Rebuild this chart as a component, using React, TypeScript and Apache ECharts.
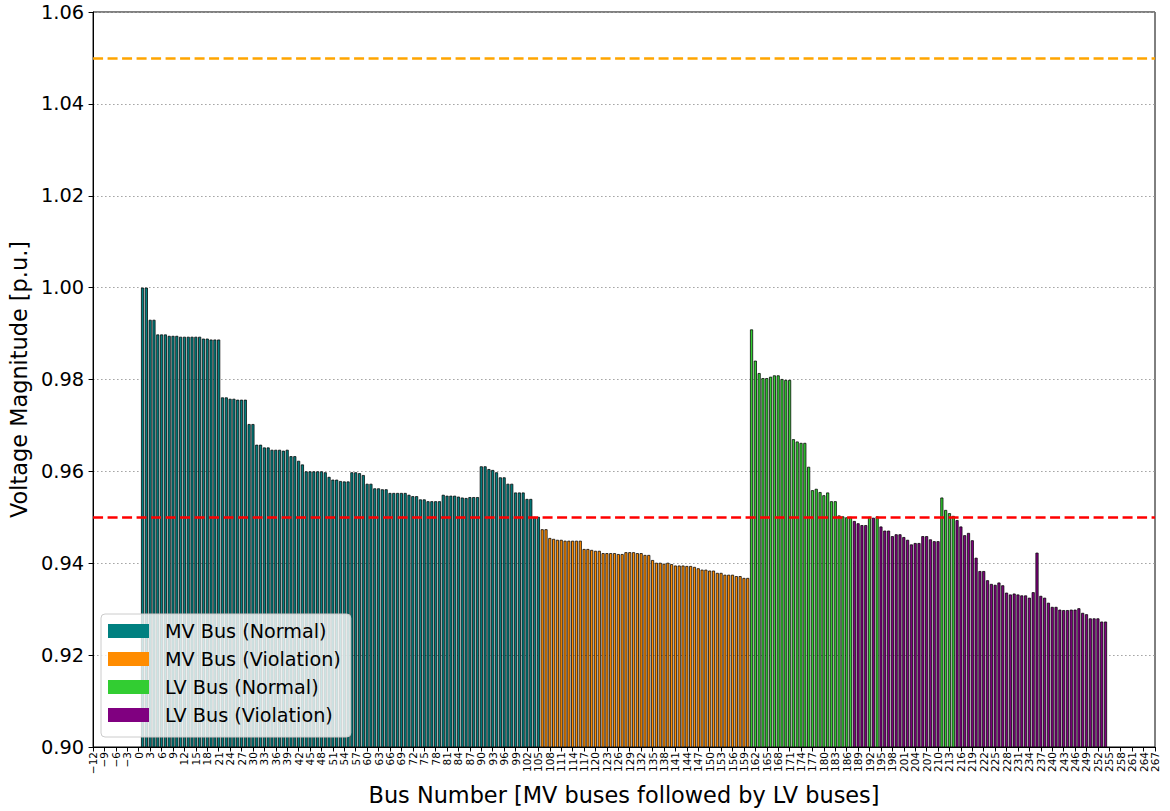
import React, { useEffect, useRef } from "react";
import * as echarts from "echarts";

// Per-unit voltage magnitude of every MV bus (bus 1 onward), in bus order.
const mvVoltage: number[] = [
  1.0, 1.0, 0.993, 0.993, 0.9898, 0.9898, 0.9898, 0.9895, 0.9895, 0.9895,
  0.9893, 0.9893, 0.9893, 0.9893, 0.9893, 0.9893, 0.9889, 0.9889, 0.9887, 0.9887,
  0.9887, 0.9761, 0.9761, 0.9758, 0.9758, 0.9756, 0.9756, 0.9756, 0.9703, 0.9703,
  0.9658, 0.9658, 0.9652, 0.9652, 0.9647, 0.9647, 0.9647, 0.9645, 0.9647, 0.9633,
  0.9633, 0.9623, 0.9615, 0.96, 0.96, 0.96, 0.96, 0.96, 0.9598, 0.9588,
  0.9582, 0.9582, 0.9579, 0.9578, 0.9578, 0.9598, 0.9598, 0.9596, 0.9592, 0.9573,
  0.9573, 0.9563, 0.9563, 0.9561, 0.9561, 0.9553, 0.9553, 0.9553, 0.9553, 0.9553,
  0.9549, 0.9546, 0.9546, 0.9539, 0.9539, 0.9535, 0.9535, 0.9535, 0.9535, 0.9549,
  0.9547, 0.9547, 0.9547, 0.9545, 0.9543, 0.9542, 0.9544, 0.9544, 0.9544, 0.9611,
  0.9611, 0.9605, 0.9603, 0.9598, 0.9587, 0.9587, 0.9573, 0.9573, 0.9554, 0.9554,
  0.9554, 0.954, 0.954, 0.9501, 0.9501, 0.9474, 0.9474, 0.9455, 0.9453, 0.9451,
  0.9451, 0.9449, 0.9449, 0.9449, 0.9449, 0.9449, 0.9431, 0.9431, 0.9429, 0.9427,
  0.9427, 0.9422, 0.9422, 0.9422, 0.9422, 0.942, 0.942, 0.9424, 0.9424, 0.9424,
  0.9422, 0.9422, 0.9418, 0.9418, 0.9407, 0.9401, 0.9401, 0.9399, 0.9401, 0.9398,
  0.9395, 0.9395, 0.9395, 0.9394, 0.9394, 0.9392, 0.9389, 0.9386, 0.9386, 0.9384,
  0.9384, 0.9379, 0.9379, 0.9375, 0.9375, 0.9375, 0.9372, 0.9372, 0.9368, 0.9368,
];

// Per-unit voltage magnitude of every LV bus, numbered right after the MV buses.
const lvVoltage: number[] = [
  0.9909, 0.9841, 0.9814, 0.9803, 0.9803, 0.9806, 0.9809, 0.9809, 0.9801, 0.9799,
  0.9799, 0.967, 0.9665, 0.9662, 0.9662, 0.961, 0.9559, 0.9562, 0.9555, 0.9548,
  0.9554, 0.9535, 0.9535, 0.9504, 0.9502, 0.95, 0.9501, 0.9492, 0.9487, 0.9483,
  0.9483, 0.9501, 0.9499, 0.9502, 0.948, 0.9471, 0.9471, 0.9459, 0.9463, 0.9463,
  0.9457, 0.9451, 0.9441, 0.9444, 0.9444, 0.9459, 0.9459, 0.9452, 0.9448, 0.9448,
  0.9543, 0.9516, 0.9509, 0.9503, 0.9494, 0.948, 0.9461, 0.9466, 0.945, 0.9412,
  0.9383, 0.9383, 0.9363, 0.9355, 0.9353, 0.9358, 0.9352, 0.9336, 0.9332, 0.9334,
  0.9332, 0.933, 0.933, 0.9325, 0.9337, 0.9423, 0.9329, 0.9325, 0.9314, 0.9305,
  0.9305, 0.9299, 0.9298, 0.9298, 0.9299, 0.9299, 0.9302, 0.9292, 0.9289, 0.928,
  0.928, 0.928, 0.9273, 0.9273,
];

const FIRST_BUS = 1;
const LOWER_LIMIT = 0.95;
const UPPER_LIMIT = 1.05;

const seriesNames = ["MV Bus (Normal)", "MV Bus (Violation)", "LV Bus (Normal)", "LV Bus (Violation)"];
const seriesColors = ["#008080", "#ff8c00", "#32cd32", "#800080"];

const X_MIN = -12;
const X_MAX = 267;
const X_STEP = 3;
const Y_MIN = 0.9;
const Y_MAX = 1.06;
const Y_STEP = 0.02;

const FONT = "DejaVu Sans";

type Pair = [number, number];

function splitByLimit(values: number[], startBus: number): { normal: Pair[]; violation: Pair[] } {
  const normal: Pair[] = [];
  const violation: Pair[] = [];
  values.forEach((v, i) => {
    const bus = startBus + i;
    if (v >= LOWER_LIMIT) normal.push([bus, v]);
    else violation.push([bus, v]);
  });
  return { normal, violation };
}

export default function App() {
  const ref = useRef<HTMLDivElement>(null);

  useEffect(() => {
    if (!ref.current) return;
    const chart = echarts.init(ref.current, undefined, { renderer: "svg" });

    const width = 1170;
    const grid = { left: 91, right: 15, top: 12, bottom: 64 };
    const unit = (width - grid.left - grid.right) / (X_MAX - X_MIN);
    const barWidth = unit * 0.8;

    const mv = splitByLimit(mvVoltage, FIRST_BUS);
    const lv = splitByLimit(lvVoltage, FIRST_BUS + mvVoltage.length);
    const groups = [mv.normal, mv.violation, lv.normal, lv.violation];

    const barSeries = groups.map((data, i) => ({
      name: seriesNames[i],
      type: "bar" as const,
      data,
      barWidth,
      barGap: "-100%",
      clip: true,
      itemStyle: { color: seriesColors[i], borderColor: "#000", borderWidth: 0.75 },
      emphasis: { disabled: true },
    }));

    const option = {
      animation: false,
      backgroundColor: "#ffffff",
      textStyle: { fontFamily: FONT },
      grid: { ...grid, show: true, borderColor: "#000", borderWidth: 1, backgroundColor: "transparent" },
      legend: {
        orient: "vertical",
        left: 101,
        top: 614,
        z: 10,
        selectedMode: false,
        icon: "rect",
        itemWidth: 41,
        itemHeight: 14,
        itemGap: 6,
        padding: [6, 10, 11, 7],
        backgroundColor: "rgba(255,255,255,0.8)",
        borderColor: "#cccccc",
        borderWidth: 1,
        borderRadius: 4,
        itemStyle: { borderWidth: 0 },
        textStyle: { fontFamily: FONT, fontSize: 19.2, color: "#000", lineHeight: 22, padding: [0, 0, 0, 11] },
        data: seriesNames,
      },
      xAxis: {
        type: "value",
        min: X_MIN,
        max: X_MAX,
        interval: X_STEP,
        name: "Bus Number [MV buses followed by LV buses]",
        nameLocation: "middle",
        nameGap: 37,
        nameTextStyle: { fontFamily: FONT, fontSize: 22.4, color: "#000" },
        axisLine: { show: true, onZero: false, lineStyle: { color: "#000", width: 1 } },
        axisTick: { show: true, length: 4.5, lineStyle: { color: "#000", width: 1 } },
        axisLabel: {
          rotate: 90,
          fontFamily: FONT,
          fontSize: 10.5,
          color: "#000",
          margin: 5,
          padding: [0, 0, 5, 0],
          formatter: (v: number) => String(v).replace("-", "\u2212"),
        },
        splitLine: { show: false },
      },
      yAxis: {
        type: "value",
        min: Y_MIN,
        max: Y_MAX,
        interval: Y_STEP,
        name: "Voltage Magnitude [p.u.]",
        nameLocation: "middle",
        nameGap: 57,
        nameTextStyle: { fontFamily: FONT, fontSize: 22.4, color: "#000" },
        axisLine: { show: true, onZero: false, lineStyle: { color: "#000", width: 1 } },
        axisTick: { show: true, length: 4.5, lineStyle: { color: "#000", width: 1 } },
        axisLabel: {
          fontFamily: FONT,
          fontSize: 19.4,
          color: "#000",
          margin: 9,
          formatter: (v: number) => v.toFixed(2),
        },
        splitLine: { show: true, lineStyle: { color: "#a0a0a0", width: 1, type: [1.5, 2.5] } },
      },
      series: [
        ...barSeries,
        {
          name: "limits",
          type: "line" as const,
          data: [],
          silent: true,
          markLine: {
            silent: true,
            symbol: "none",
            label: { show: false },
            data: [
              { yAxis: LOWER_LIMIT, lineStyle: { color: "#ff0000", width: 2.5, type: [10, 4.5] } },
              { yAxis: UPPER_LIMIT, lineStyle: { color: "#ffa500", width: 2.5, type: [10, 4.5] } },
            ],
          },
        },
      ],
    };

    chart.setOption(option as any);
    return () => chart.dispose();
  }, []);

  return (
    <div
      ref={ref}
      style={{ position: "fixed", left: 0, top: 0, width: 1170, height: 811, background: "#fff" }}
    />
  );
}
